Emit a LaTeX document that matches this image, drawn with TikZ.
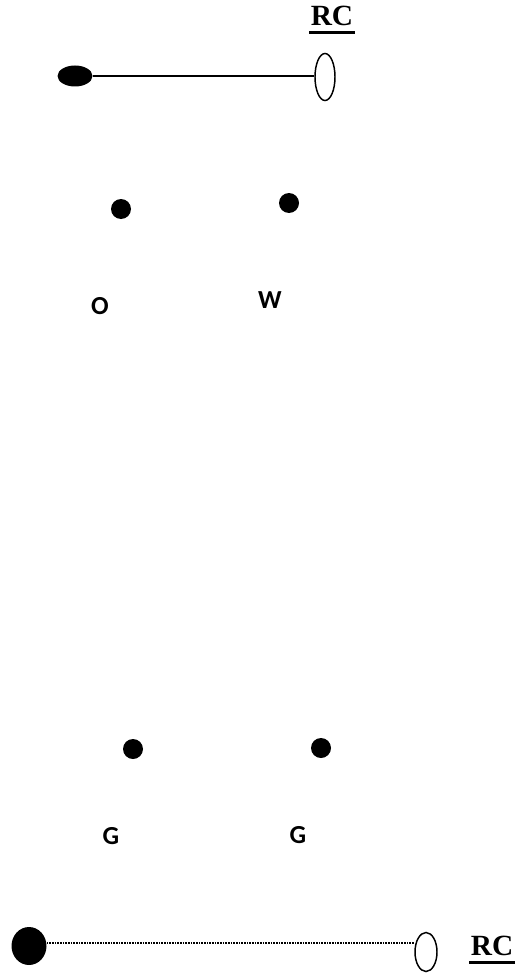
\documentclass[tikz,border=0pt]{standalone}
\usepackage{fontspec}
\setmainfont{Liberation Serif}
\newfontfamily\lblfont{Carlito}
\usepackage{tikz}
\usetikzlibrary{shapes.geometric, positioning}

% thick underline as in the reference
\newcommand{\thickul}[1]{\setbox0\hbox{#1}\rlap{\hspace{-1pt}\rule[-6pt]{\dimexpr\wd0+2pt\relax}{2pt}}\box0}

\tikzset{
  blackend/.style={ellipse, fill=black, inner sep=0pt},
  openend/.style={ellipse, draw=black, line width=1.1pt, fill=white, inner sep=0pt},
  spot/.style={circle, fill=black, inner sep=0pt, minimum size=15pt},
  rclabel/.style={anchor=base, inner sep=0pt, font=\bfseries\fontsize{22}{25}\selectfont},
  letter/.style={anchor=base, inner sep=0pt, font=\lblfont\bfseries\fontsize{19.5}{22}\selectfont}
}

\begin{document}
\begin{tikzpicture}[x=0.75pt, y=-0.75pt]
\useasboundingbox (0,0) rectangle (521,977);

% Top rod
\node[blackend, minimum width=26.25pt, minimum height=15.75pt] (topL) at (75,76) {};
\node[openend, minimum width=15pt, minimum height=35.25pt] (topR) at (325,77) {};
\draw[line width=1.1pt] (topL.east) -- (topL.east -| topR.west);
\node[rclabel] (rcTop) at (332,26) {\thickul{RC}};

% Upper pair
\node[spot] (dotO) at (121,209) {};
\node[spot] (dotW) at (289,203) {};
\node[letter] (labO) at (100,314.5) {O};
\node[letter] (labW) at (270,308.5) {W};

% Lower pair
\node[spot] (dotGa) at (133,749) {};
\node[spot] (dotGb) at (321,748) {};
\node[letter] (labGa) at (111,844.5) {G};
\node[letter] (labGb) at (298,843.5) {G};

% Bottom rod
\node[blackend, minimum width=26.25pt, minimum height=28.5pt] (botL) at (29,946) {};
\node[openend, minimum width=16.5pt, minimum height=29.25pt] (botR) at (426,952) {};
\draw[line width=1.3pt, dash pattern=on 1.1pt off 0.9pt]
  ([yshift=2.25pt]botL.east) -- ([yshift=2.25pt]botL.east -| botR.west);
\node[rclabel] (rcBot) at (492,955.5) {\thickul{RC}};
\end{tikzpicture}
\end{document}
